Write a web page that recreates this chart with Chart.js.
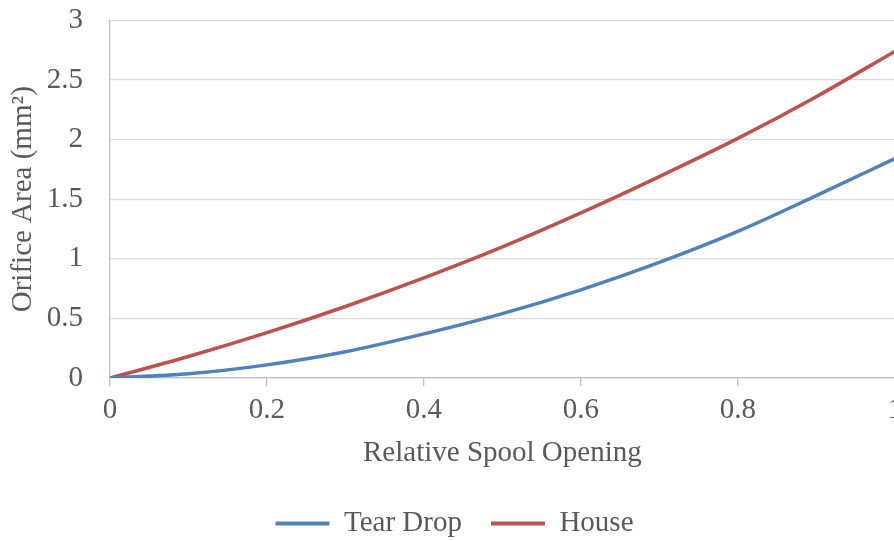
<!DOCTYPE html>
<html>
<head>
<meta charset="utf-8">
<script src="https://cdn.jsdelivr.net/npm/chart.js@4.4.0/dist/chart.umd.min.js"></script>
<style>
  html, body { margin: 0; padding: 0; background: #ffffff; overflow: hidden; }
  #wrap { width: 894px; height: 541px; overflow: hidden; position: relative; }
  #c { display: block; position: absolute; left: 0; top: -24px; }
</style>
</head>
<body>
<div id="wrap"><canvas id="c" width="909" height="572"></canvas></div>
<script>
// Relative spool opening (x) and orifice areas (mm²)
const spoolOpening = [0, 0.1, 0.2, 0.3, 0.4, 0.5, 0.6, 0.7, 0.8, 0.9, 1.0];
const tearDrop     = [0, 0.035, 0.11, 0.22, 0.37, 0.54, 0.74, 0.97, 1.23, 1.53, 1.84];
const house        = [0, 0.18, 0.38, 0.60, 0.84, 1.10, 1.385, 1.69, 2.01, 2.36, 2.74];
const seriesNames  = ['Tear Drop', 'House'];
const xTickValues  = [0, 0.2, 0.4, 0.6, 0.8, 1];
const xTickLabels  = ['0', '0.2', '0.4', '0.6', '0.8', '1'];
const yTickValues  = [0, 0.5, 1, 1.5, 2, 2.5, 3];
const yTickLabels  = ['0', '0.5', '1', '1.5', '2', '2.5', '3'];

const FONT = 'Liberation Serif, "Times New Roman", serif';
const TXT = '#595959';
const FS = 29;

function pts(ys) { return spoolOpening.map((x, i) => ({ x: x, y: ys[i] })); }

new Chart(document.getElementById('c'), {
  type: 'line',
  data: {
    datasets: [
      { label: seriesNames[0], data: pts(tearDrop), borderColor: '#4f81bd', backgroundColor: '#4f81bd',
        borderWidth: 3.5, pointRadius: 0, cubicInterpolationMode: 'monotone', fill: false },
      { label: seriesNames[1], data: pts(house), borderColor: '#c0504d', backgroundColor: '#c0504d',
        borderWidth: 3.5, pointRadius: 0, cubicInterpolationMode: 'monotone', fill: false }
    ]
  },
  options: {
    responsive: false,
    animation: false,
    layout: { padding: 0 },
    plugins: {
      legend: {
        position: 'bottom',
        labels: {
          font: { family: FONT, size: FS }, color: TXT,
          boxWidth: 54, boxHeight: 4, padding: 29,
          generateLabels: chart => Chart.defaults.plugins.legend.labels.generateLabels(chart)
            .map(item => Object.assign(item, { lineWidth: 0, strokeStyle: 'rgba(0,0,0,0)' }))
        }
      },
      tooltip: { enabled: false }
    },
    scales: {
      x: {
        type: 'linear', min: 0, max: 1,
        afterBuildTicks: s => { s.ticks = xTickValues.map(v => ({ value: v })); },
        afterFit: s => { s.height = 102; },
        ticks: {
          callback: (v, i) => xTickLabels[i],
          font: { family: FONT, size: FS }, color: TXT, padding: 7, maxRotation: 0
        },
        grid: { color: 'rgba(0,0,0,0)', tickColor: '#bfbfbf', tickLength: 8, lineWidth: 1.3, drawOnChartArea: false },
        border: { color: '#bfbfbf', width: 1.3 },
        title: { display: true, text: 'Relative Spool Opening', font: { family: FONT, size: FS }, color: TXT,
                 padding: { top: 8, bottom: 9 } }
      },
      y: {
        type: 'linear', min: 0, max: 3,
        afterBuildTicks: s => { s.ticks = yTickValues.map(v => ({ value: v })); },
        afterFit: s => { s.width = 110; },
        ticks: {
          callback: (v, i) => yTickLabels[i],
          font: { family: FONT, size: FS }, color: TXT, padding: 27
        },
        grid: { color: '#d9d9d9', lineWidth: 1.3, drawTicks: false },
        border: { color: '#bfbfbf', width: 1.3 },
        title: { display: true, text: 'Orifice Area (mm²)', font: { family: FONT, size: FS }, color: TXT,
                 padding: { top: 6, bottom: 0 } }
      }
    }
  }
});
</script>
</body>
</html>
